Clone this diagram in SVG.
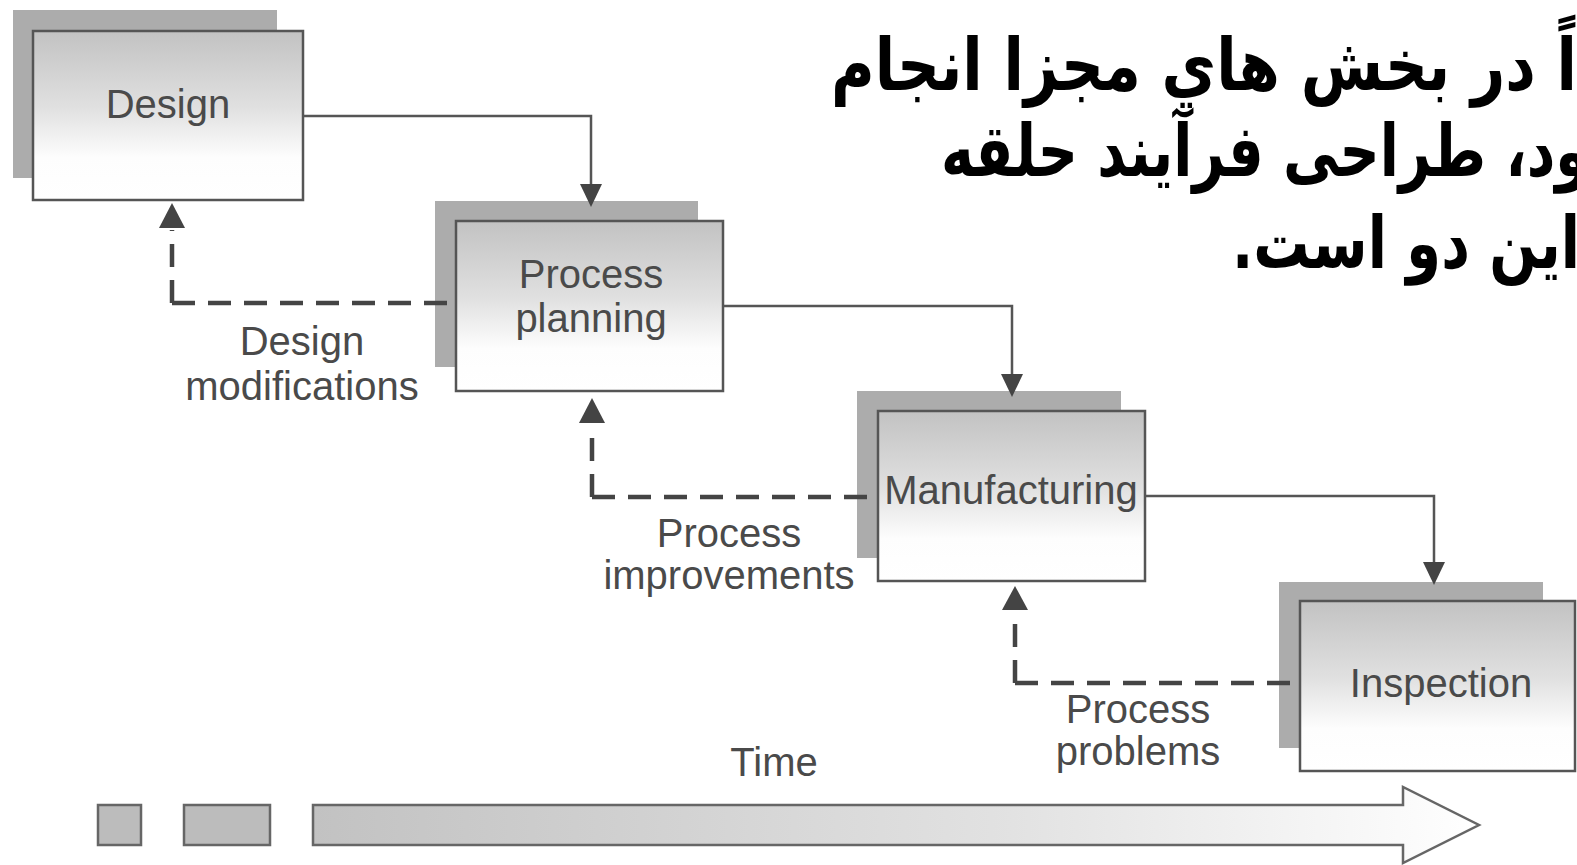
<svg xmlns="http://www.w3.org/2000/svg" width="1577" height="865" viewBox="0 0 1577 865">
<defs>
<linearGradient id="boxg" x1="0" y1="0" x2="0" y2="1">
<stop offset="0" stop-color="#c2c2c2"/>
<stop offset="0.45" stop-color="#e0e0e0"/>
<stop offset="0.75" stop-color="#fdfdfd"/>
<stop offset="1" stop-color="#ffffff"/>
</linearGradient>
<linearGradient id="timeg" x1="313" y1="0" x2="1479" y2="0" gradientUnits="userSpaceOnUse">
<stop offset="0" stop-color="#c2c2c2"/>
<stop offset="0.6" stop-color="#e2e2e2"/>
<stop offset="1" stop-color="#ffffff"/>
</linearGradient>
<style>
.sh{fill:#acacac;}
.bx{fill:url(#boxg);stroke:#555;stroke-width:2.5;}
.lbl{font-family:"Liberation Sans",Arial,sans-serif;font-size:40px;fill:#4a4a4a;text-anchor:middle;}
.ln{fill:none;stroke:#555;stroke-width:2.5;}
.ds{fill:none;stroke:#444;stroke-width:4.5;stroke-dasharray:23 13;}
.ah{fill:#444;}
.ar{font-family:"DejaVu Sans",sans-serif;font-weight:bold;font-size:72px;fill:#000;}
</style>
</defs>
<rect width="1577" height="865" fill="#ffffff"/>

<g id="heading">
<text class="ar" direction="rtl" text-anchor="end" x="831" y="90" textLength="746" lengthAdjust="spacingAndGlyphs">اً در بخش هاي مجزا انجام</text>
<text class="ar" direction="rtl" text-anchor="end" x="941" y="176" textLength="649" lengthAdjust="spacingAndGlyphs">ود، طراحی فرآیند حلقه</text>
<text class="ar" direction="rtl" text-anchor="end" x="1232" y="268" textLength="348" lengthAdjust="spacingAndGlyphs">این دو است.</text>
</g>

<g id="design">
<rect class="sh" x="13" y="10" width="264" height="168"/>
<rect class="bx" x="33" y="31" width="270" height="169"/>
<text class="lbl" x="168" y="118">Design</text>
</g>

<g id="process-planning">
<rect class="sh" x="435" y="201" width="263" height="166"/>
<rect class="bx" x="456" y="221" width="267" height="170"/>
<text class="lbl" x="591" y="288">Process</text>
<text class="lbl" x="591" y="332">planning</text>
</g>

<g id="manufacturing">
<rect class="sh" x="857" y="391" width="264" height="167"/>
<rect class="bx" x="878" y="411" width="267" height="170"/>
<text class="lbl" x="1011" y="504">Manufacturing</text>
</g>

<g id="inspection">
<rect class="sh" x="1279" y="582" width="264" height="166"/>
<rect class="bx" x="1300" y="601" width="275" height="170"/>
<text class="lbl" x="1441" y="697">Inspection</text>
</g>

<g id="connectors">
<path class="ln" d="M303,116 H591 V186"/>
<polygon class="ah" points="580,184 602,184 591,207"/>
<path class="ln" d="M723,306 H1012 V376"/>
<polygon class="ah" points="1001,374 1023,374 1012,397"/>
<path class="ln" d="M1145,496 H1434 V564"/>
<polygon class="ah" points="1423,562 1445,562 1434,585"/>
<path class="ds" d="M172,303 H456"/>
<path class="ds" d="M172,303 V230"/>
<polygon class="ah" points="159,228 185,228 172,203"/>
<path class="ds" d="M592,497 H878"/>
<path class="ds" d="M592,497 V425"/>
<polygon class="ah" points="579,423 605,423 592,398"/>
<path class="ds" d="M1015,683 H1301"/>
<path class="ds" d="M1015,683 V612"/>
<polygon class="ah" points="1002,610 1028,610 1015,586"/>
</g>

<g id="labels">
<text class="lbl" x="302" y="355">Design</text>
<text class="lbl" x="302" y="400">modifications</text>
<text class="lbl" x="729" y="547">Process</text>
<text class="lbl" x="729" y="589">improvements</text>
<text class="lbl" x="1138" y="723">Process</text>
<text class="lbl" x="1138" y="765">problems</text>
<text class="lbl" x="774" y="776">Time</text>
</g>

<g id="timeline">
<rect x="98" y="805" width="43" height="40" fill="#bcbcbc" stroke="#666" stroke-width="2.5"/>
<rect x="184" y="805" width="86" height="40" fill="#bcbcbc" stroke="#666" stroke-width="2.5"/>
<polygon points="313,805 1403,805 1403,787 1479,825 1403,863 1403,845 313,845" fill="url(#timeg)" stroke="#666" stroke-width="2.5"/>
</g>
</svg>
